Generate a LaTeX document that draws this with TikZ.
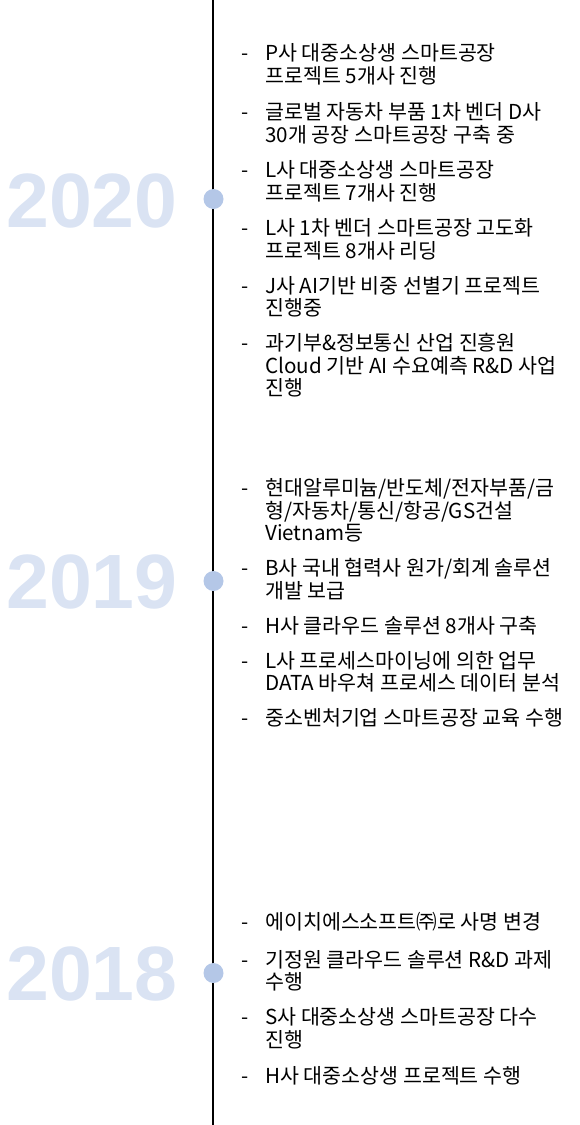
\documentclass[tikz,border=0pt]{standalone}
\usepackage{fontspec}
\newfontfamily\krfont{Noto Sans CJK KR}
\newfontfamily\yearfont{Liberation Sans}
\definecolor{yearblue}{HTML}{DAE3F3}
\definecolor{dotblue}{HTML}{B4C7E7}
\begin{document}
\begin{tikzpicture}[x=1pt,y=-1pt,
  itemtext/.style={anchor=base west,inner sep=0pt,font=\krfont\fontsize{20.6}{24}\selectfont},
  bulletmark/.style={anchor=base west,inner sep=0pt,font=\krfont\fontsize{20.6}{24}\selectfont},
  yeartext/.style={anchor=base,inner sep=0pt,text=yearblue,font=\yearfont\bfseries\fontsize{77}{80}\selectfont},
  tdot/.style={circle,fill=dotblue,minimum size=20pt,inner sep=0pt}]
\useasboundingbox (0,0) rectangle (580,1125);
\coordinate (top) at (213,0);
\coordinate (bot) at (213,1125);
\draw[line width=2pt] (top) -- (bot);
% dots
\node[tdot] (d20) at (213.5,199) {};
\node[tdot] (d19) at (213.5,581) {};
\node[tdot] (d18) at (213.5,973) {};
% years
\node[yeartext] (y20) at (92,227) {2020};
\node[yeartext] (y19) at (92,608) {2019};
\node[yeartext] (y18) at (92,1000) {2018};
% 2020 items
\node[bulletmark] (b1) at (241,60.5) {-};
\node[itemtext] (t1a) at (265,60.5) {P사 대중소상생 스마트공장};
\node[itemtext] (t1b) at (265,83) {프로젝트 5개사 진행};
\node[bulletmark] (b2) at (241,119.5) {-};
\node[itemtext] (t2a) at (265,119.5) {글로벌 자동차 부품 1차 벤더 D사};
\node[itemtext] (t2b) at (265,142) {30개 공장 스마트공장 구축 중};
\node[bulletmark] (b3) at (241,177.5) {-};
\node[itemtext] (t3a) at (265,177.5) {L사 대중소상생 스마트공장};
\node[itemtext] (t3b) at (265,200) {프로젝트 7개사 진행};
\node[bulletmark] (b4) at (241,235.5) {-};
\node[itemtext] (t4a) at (265,235.5) {L사 1차 벤더 스마트공장 고도화};
\node[itemtext] (t4b) at (265,258) {프로젝트 8개사 리딩};
\node[bulletmark] (b5) at (241,293) {-};
\node[itemtext] (t5a) at (265,293) {J사 AI기반 비중 선별기 프로젝트};
\node[itemtext] (t5b) at (265,315) {진행중};
\node[bulletmark] (b6) at (241,350.5) {-};
\node[itemtext] (t6a) at (265,350.5) {과기부\&정보통신 산업 진흥원};
\node[itemtext] (t6b) at (265,373) {Cloud 기반 AI 수요예측 R\&D 사업};
\node[itemtext] (t6c) at (265,395) {진행};
% 2019 items
\node[bulletmark] (b7) at (241,495.5) {-};
\node[itemtext] (t7a) at (265,495.5) {현대알루미늄/반도체/전자부품/금};
\node[itemtext] (t7b) at (265,518) {형/자동차/통신/항공/GS건설};
\node[itemtext] (t7c) at (265,540.5) {Vietnam등};
\node[bulletmark] (b8) at (241,575.5) {-};
\node[itemtext] (t8a) at (265,575.5) {B사 국내 협력사 원가/회계 솔루션};
\node[itemtext] (t8b) at (265,598) {개발 보급};
\node[bulletmark] (b9) at (241,633) {-};
\node[itemtext] (t9a) at (265,633) {H사 클라우드 솔루션 8개사 구축};
\node[bulletmark] (b10) at (241,668) {-};
\node[itemtext] (t10a) at (265,668) {L사 프로세스마이닝에 의한 업무};
\node[itemtext] (t10b) at (265,690.5) {DATA 바우쳐 프로세스 데이터 분석};
\node[bulletmark] (b11) at (241,725) {-};
\node[itemtext] (t11a) at (265,725) {중소벤처기업 스마트공장 교육 수행};
% 2018 items
\node[bulletmark] (b12) at (241,929.5) {-};
\node[itemtext] (t12a) at (265,929.5) {에이치에스소프트㈜로 사명 변경};
\node[bulletmark] (b13) at (241,967) {-};
\node[itemtext] (t13a) at (265,967) {기정원 클라우드 솔루션 R\&D 과제};
\node[itemtext] (t13b) at (265,989.5) {수행};
\node[bulletmark] (b14) at (241,1024.5) {-};
\node[itemtext] (t14a) at (265,1024.5) {S사 대중소상생 스마트공장 다수};
\node[itemtext] (t14b) at (265,1047) {진행};
\node[bulletmark] (b15) at (241,1083) {-};
\node[itemtext] (t15a) at (265,1083) {H사 대중소상생 프로젝트 수행};
\end{tikzpicture}
\end{document}
